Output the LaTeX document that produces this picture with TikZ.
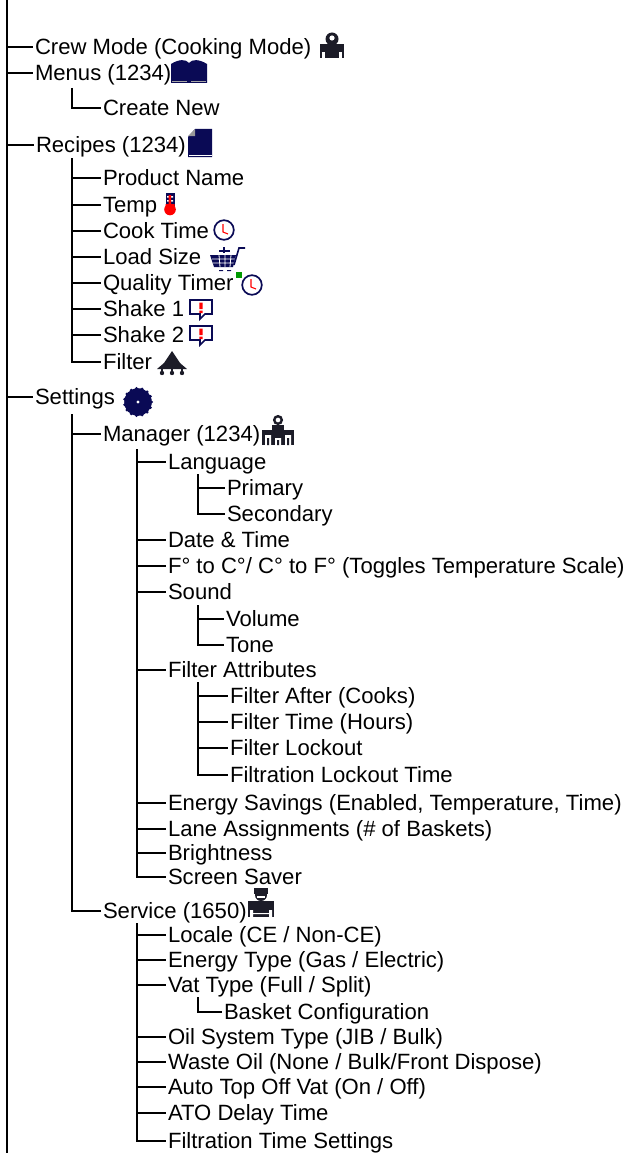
\documentclass[tikz,border=0pt]{standalone}
\usepackage{fontspec}
\setmainfont{Liberation Sans}
\definecolor{navy}{HTML}{0A0A55}
\definecolor{ink}{HTML}{1C1C28}
\tikzset{
 x=1pt,y=-1pt,
 item/.style={anchor=west,inner sep=0pt,outer sep=2.5pt,font=\fontsize{22.1}{22}\selectfont,text height=18pt,text depth=3pt},
 conn/.style={draw=black,line width=1.7pt},
 mainconn/.style={draw=black,line width=2pt},
 person/.pic={\fill[ink] (0,-7) circle (6.5); \fill[white] (0,-8) circle (2.6); \fill[ink] (-12,-2) rectangle (12,12); \fill[white] (-10,6) rectangle (-7,12); \fill[white] (7,6) rectangle (10,12);},
 book/.pic={\fill[navy] (-18,-8) .. controls (-10,-13) and (-3,-13) .. (0,-9) .. controls (3,-13) and (10,-13) .. (18,-8) -- (18,11) -- (-18,11) -- cycle; \draw[gray!70,line width=.6pt] (-17,9.5) -- (-2,9.5) (2,9.5) -- (17,9.5);},
 page/.pic={\fill[navy] (-5,-14) -- (12,-14) -- (12,14) -- (-12,14) -- (-12,-6) -- cycle; \fill[gray!80] (-12,-7) -- (-5,-14) -- (-5,-7) -- cycle; \draw[white,line width=.5pt] (-11,12) -- (12,12);},
 thermo/.pic={\fill[navy] (-4.5,-11) rectangle (4.5,6); \fill[white] (-3,-8) rectangle (-1,-6.5) (-3,-4) rectangle (-1,-2.5) (1,-8) rectangle (3,-6.5) (1,-4) rectangle (3,-2.5); \fill[red] (-1.5,-9) rectangle (1,4) (-4.5,0) rectangle (4.5,6); \fill[red] (0,5.5) circle (5.8);},
 clock/.pic={\draw[navy,fill=white,line width=1.7pt] (0,0) circle (9.8); \draw[red,line width=1.1pt] (-1,-6) -- (-1,2) -- (4,4);},
 cart/.pic={\fill[navy] (-18,-3) -- (8,-3) -- (5,9) -- (-14,9) -- cycle; \draw[white,line width=.8pt] (-16,1) -- (8,1) (-15,5) -- (6,5) (-9,-3) -- (-8,9) (-3,-3) -- (-3,9) (3,-3) -- (2,9); \draw[navy,line width=1.6pt] (6,7) -- (11,-10) -- (17,-10); \fill[navy] (-9,12) rectangle (-5,13) (-1,12) rectangle (3,13); \draw[navy,line width=1.2pt] (-9,-7) -- (2,-7) (-4,-11) -- (-4,-5);},
 alert/.pic={\draw[navy,fill=white,line width=1.6pt] (-11,-9) -- (11,-9) -- (11,5) -- (4,5) -- (-1,10) -- (-1,5) -- (-11,5) -- cycle; \fill[red] (-1.6,-6.5) rectangle (1.6,0) (-1.6,1.5) rectangle (1.6,4);},
 filt/.pic={\fill[ink] (0,-12) -- (8,0) -- (15,6) -- (-15,6) -- (-8,0) -- cycle; \draw[ink,line width=1.6pt] (-10,6) -- (-10,11) (0,6) -- (0,11) (10,6) -- (10,11); \fill[ink] (-10,10) circle (2.2) (0,10) circle (2.2) (10,10) circle (2.2);},
 gear/.pic={\fill[navy] (0,0) circle (13.8); \foreach \a in {0,24,...,336} \fill[navy] (\a:13.6) circle (1.6); \fill[white] (0,0) circle (1.6);},
 mgr/.pic={\draw[ink,line width=2.4pt] (0,-10) circle (3.8); \fill[ink] (-16,0) rectangle (16,15); \fill[ink] (-6,-5) rectangle (6,0); \fill[white] (-13,5) rectangle (-7,15) (7,5) rectangle (13,15) (-3,8) rectangle (3,15); \fill[ink] (-11,8) rectangle (-9,15) (9,8) rectangle (11,15) (-1,10) rectangle (1,15);},
 svc/.pic={\fill[ink] (0,-8) circle (6); \fill[ink] (-7,-15) rectangle (7,-9.5); \fill[white] (-4,-7.5) rectangle (4,-5.5); \fill[ink] (-13,-2) rectangle (13,14); \fill[white] (-11,7) rectangle (-8,14) (8,7) rectangle (11,14) (-8,10) rectangle (8,11);},
}
\begin{document}
\begin{tikzpicture}
\useasboundingbox (0,0) rectangle (628,1153);
\coordinate (mt) at (7,0);
\coordinate (mb) at (7,1153);
\coordinate (mnt) at (72,88);
\coordinate (rt) at (72,158);
\coordinate (st) at (72,414);
\coordinate (mgt) at (137,449);
\coordinate (lt) at (198,474);
\coordinate (sdt) at (198,605);
\coordinate (fat) at (198,682);
\coordinate (svt) at (137,923);
\coordinate (vt) at (198,997);

\node[item] (crew) at (32.5,47) {Crew Mode (Cooking Mode)};
\node[item] (menus) at (32.5,73) {Menus (1234)};
\node[item] (create) at (100.5,108) {Create New};
\node[item] (recipes) at (33.5,145) {Recipes (1234)};
\node[item] (pname) at (100.5,178) {Product Name};
\node[item] (temp) at (100.5,205) {Temp};
\node[item] (cook) at (100.5,231) {Cook Time};
\node[item] (load) at (100.5,257) {Load Size};
\node[item] (qual) at (100.5,283) {Quality Timer};
\node[item] (sh1) at (100.5,309) {Shake 1};
\node[item] (sh2) at (100.5,335) {Shake 2};
\node[item] (filter) at (100.5,362) {Filter};
\node[item] (settings) at (32.5,397) {Settings};
\node[item] (manager) at (100.5,434) {Manager (1234)};
\node[item] (lang) at (165.5,462) {Language};
\node[item] (prim) at (224.5,488) {Primary};
\node[item] (sec) at (224.5,514) {Secondary};
\node[item] (date) at (165.5,540) {Date \& Time};
\node[item] (ftoc) at (165.5,566) {F° to C°/ C° to F° (Toggles Temperature Scale)};
\node[item] (sound) at (165.5,592) {Sound};
\node[item] (vol) at (223.5,619) {Volume};
\node[item] (tone) at (223.5,645) {Tone};
\node[item] (fattr) at (165.5,670) {Filter Attributes};
\node[item] (fa1) at (227.5,696) {Filter After (Cooks)};
\node[item] (fa2) at (227.5,722) {Filter Time (Hours)};
\node[item] (fa3) at (227.5,748) {Filter Lockout};
\node[item] (fa4) at (227.5,775) {Filtration Lockout Time};
\node[item] (energy) at (165.5,803) {Energy Savings (Enabled, Temperature, Time)};
\node[item] (lane) at (165.5,829) {Lane Assignments (\# of Baskets)};
\node[item] (bright) at (165.5,853) {Brightness};
\node[item] (saver) at (165.5,877) {Screen Saver};
\node[item] (service) at (100.5,911) {Service (1650)};
\node[item] (locale) at (165.5,935) {Locale (CE / Non-CE)};
\node[item] (etype) at (165.5,960) {Energy Type (Gas / Electric)};
\node[item] (vat) at (165.5,985) {Vat Type (Full / Split)};
\node[item] (basket) at (221.5,1012) {Basket Configuration};
\node[item] (oil) at (165.5,1037) {Oil System Type (JIB / Bulk)};
\node[item] (waste) at (165.5,1062) {Waste Oil (None / Bulk/Front Dispose)};
\node[item] (ato) at (165.5,1087) {Auto Top Off Vat (On / Off)};
\node[item] (atod) at (165.5,1113) {ATO Delay Time};
\node[item] (ftime) at (165.5,1141) {Filtration Time Settings};

\draw[mainconn] (mt) -- (mb);
\foreach \n in {crew,menus,recipes,settings} \draw[conn] (mt |- \n.west) -- (\n.west);
\draw[conn] (mnt) |- (create.west);
\foreach \n in {pname,temp,cook,load,qual,sh1,sh2,filter} \draw[conn] (rt) |- (\n.west);
\foreach \n in {manager,service} \draw[conn] (st) |- (\n.west);
\foreach \n in {lang,date,ftoc,sound,fattr,energy,lane,bright,saver} \draw[conn] (mgt) |- (\n.west);
\foreach \n in {prim,sec} \draw[conn] (lt) |- (\n.west);
\foreach \n in {vol,tone} \draw[conn] (sdt) |- (\n.west);
\foreach \n in {fa1,fa2,fa3,fa4} \draw[conn] (fat) |- (\n.west);
\foreach \n in {locale,etype,vat,oil,waste,ato,atod,ftime} \draw[conn] (svt) |- (\n.west);
\draw[conn] (vt) |- (basket.west);

\pic at (332,46) {person};
\pic at (189,72) {book};
\pic at (200,143) {page};
\pic at (170,204) {thermo};
\pic at (224,230) {clock};
\pic at (228,258) {cart};
\pic at (252,285) {clock};
\fill[green!60!black] (236,272) rectangle (242,278);
\pic at (201,309) {alert};
\pic at (201,335) {alert};
\pic at (172,363) {filt};
\pic at (138,402) {gear};
\pic at (278,430) {mgr};
\pic at (261,903) {svc};
\end{tikzpicture}
\end{document}
